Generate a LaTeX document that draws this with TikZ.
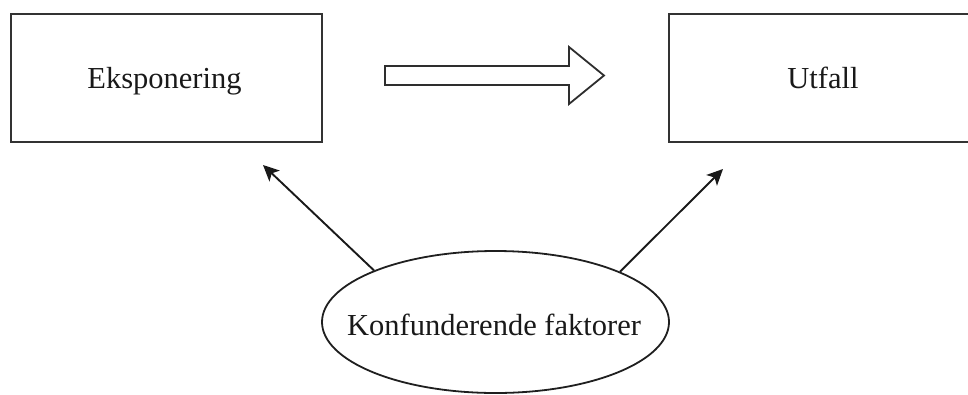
\documentclass[tikz,border=0pt]{standalone}
\usepackage{fontspec}
\setmainfont{Liberation Serif}
\usetikzlibrary{shapes.geometric,arrows.meta}
\begin{document}
\begin{tikzpicture}[x=1pt,y=-1pt,
  box/.style={draw=black!80,line width=2.2pt,minimum width=311pt,minimum height=128pt,inner sep=0pt,anchor=north west},
  oval/.style={draw=black!88,line width=1.8pt,ellipse,minimum width=347pt,minimum height=142pt,inner sep=0pt},
  label/.style={font=\fontsize{30.5}{36}\selectfont,text=black!90,anchor=base,inner sep=0pt},
  link/.style={draw=black!90,line width=1.9pt,-{Stealth[length=16pt,width=15pt,inset=4pt]}},
  blockarrow/.style={draw=black!82,line width=1.8pt,fill=white,line join=miter}]
\useasboundingbox (0,0) rectangle (968,394);
\begin{scope}
\clip (0,0) rectangle (968,394);
% exposure and outcome boxes
\node[box] (eks) at (10,13) {};
\node[box] (utf) at (668,13) {};
\node[label] at (164.5,88) {Eksponering};
\node[label] at (823,88) {Utfall};
% confounders
\node[oval] (konf) at (495.5,322) {};
\node[label] at (494,335) {Konfunderende faktorer};
% broad arrow between the boxes
\draw[blockarrow] (385,66) -- (569,66) -- (569,47) -- (604,75.5) -- (569,104) -- (569,85) -- (385,85) -- cycle;
% free arrow ends below the boxes
\coordinate (tipL) at (263,165);
\coordinate (tipR) at (723,169);
\draw[link] (konf.157.6) -- (tipL);
\draw[link] (konf.22.5) -- (tipR);
\end{scope}
\end{tikzpicture}
\end{document}
